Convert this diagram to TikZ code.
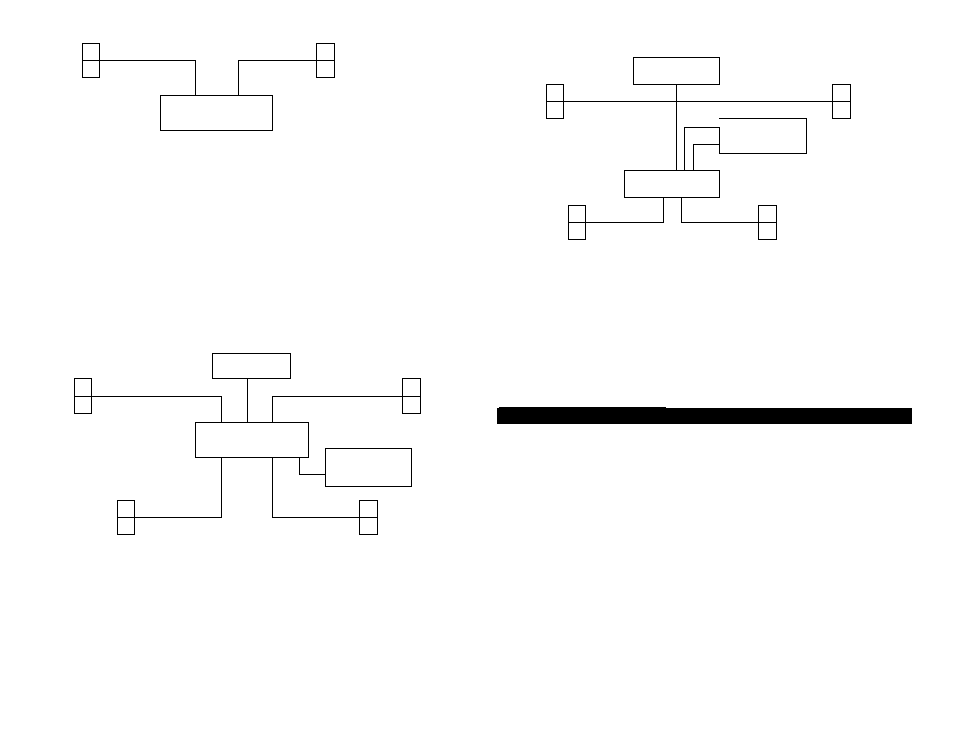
\documentclass[tikz,border=0pt]{standalone}
\begin{document}
\begin{tikzpicture}[x=1pt,y=-1pt,line width=1pt,
  box/.style={draw,rectangle,inner sep=0pt,outer sep=0pt},
  cell/.style={box,minimum width=17pt,minimum height=17pt},
  wire/.style={draw}]
\path[use as bounding box] (0,0) rectangle (954,738);
% ---------- diagram 1 ----------
\node[cell] (s1a) at (90.8,51.8) {};
\node[cell] (s1b) at (90.8,68.8) {};
\node[cell,minimum width=17.6pt] (s2a) at (325.5,51.8) {};
\node[cell,minimum width=17.6pt] (s2b) at (325.5,68.8) {};
\node[box,minimum width=112pt,minimum height=34.7pt] (c1) at (216.3,112.7) {};
\draw (s1a.south east) -| ([xshift=35pt]c1.north west);
\draw (s2a.south west) -| ([xshift=78pt]c1.north west);
% ---------- diagram 2 ----------
\node[box,minimum width=86pt,minimum height=26.7pt] (t2) at (676.3,70.7) {};
\node[cell] (l2a) at (554.8,92.8) {};
\node[cell] (l2b) at (554.8,109.8) {};
\node[cell,minimum width=18pt] (r2a) at (841.3,92.8) {};
\node[cell,minimum width=18pt] (r2b) at (841.3,109.8) {};
\draw (l2a.south east) -- (r2a.south west);
\node[box,minimum width=95pt,minimum height=26.7pt] (b2) at (671.8,183.7) {};
\draw (t2.south) -- (t2.south |- b2.north);
\node[inner sep=0pt,outer sep=0pt,minimum width=87pt,minimum height=35pt] (e2) at (762.8,135.8) {};
\coordinate (k1) at (719.3,127.3);
\coordinate (k2) at (719.3,144.3);
\draw (e2.north west) -- (e2.north east) -- (e2.south east) -- (e2.south west) -- (k1);
\draw ([xshift=60pt]b2.north west) |- (k1);
\draw ([xshift=69pt]b2.north west) |- (k2);
\node[cell] (bl2a) at (576.8,213.8) {};
\node[cell] (bl2b) at (576.8,230.8) {};
\node[cell,minimum width=17.6pt] (br2a) at (767.5,213.8) {};
\node[cell,minimum width=17.6pt] (br2b) at (767.5,230.8) {};
\draw ([xshift=39pt]b2.south west) |- (bl2a.south east);
\draw ([xshift=57.4pt]b2.south west) |- (br2a.south west);
% ---------- diagram 3 ----------
\node[box,minimum width=78pt,minimum height=25pt] (t3) at (251.3,365.8) {};
\node[cell,minimum height=17.5pt] (l3a) at (82.8,387.55) {};
\node[cell,minimum height=17.5pt] (l3b) at (82.8,405.05) {};
\node[cell,minimum width=18pt,minimum height=17.5pt] (r3a) at (411.3,387.55) {};
\node[cell,minimum width=18pt,minimum height=17.5pt] (r3b) at (411.3,405.05) {};
\node[box,minimum width=113pt,minimum height=35pt] (c3) at (251.8,439.8) {};
\draw ([xshift=35pt]t3.south west) -- ([xshift=35pt]t3.south west |- c3.north);
\draw (l3a.south east) -| ([xshift=26pt]c3.north west);
\draw (r3a.south west) -| ([xshift=77pt]c3.north west);
\node[box,minimum width=86pt,minimum height=38pt] (e3) at (368.3,467.3) {};
\draw ([xshift=103.7pt]c3.south west) |- ([yshift=-7pt]e3.west);
\node[cell] (bl3a) at (125.8,508.8) {};
\node[cell] (bl3b) at (125.8,525.8) {};
\node[cell,minimum width=18pt] (br3a) at (368.3,508.8) {};
\node[cell,minimum width=18pt] (br3b) at (368.3,525.8) {};
\draw ([xshift=26pt]c3.south west) |- (bl3a.south east);
\draw ([xshift=77pt]c3.south west) |- (br3a.south west);
% ---------- black bar ----------
\fill (497,408.3) rectangle (912,423.7);
\fill (499,407) rectangle (665.7,408.5);
\end{tikzpicture}
\end{document}
